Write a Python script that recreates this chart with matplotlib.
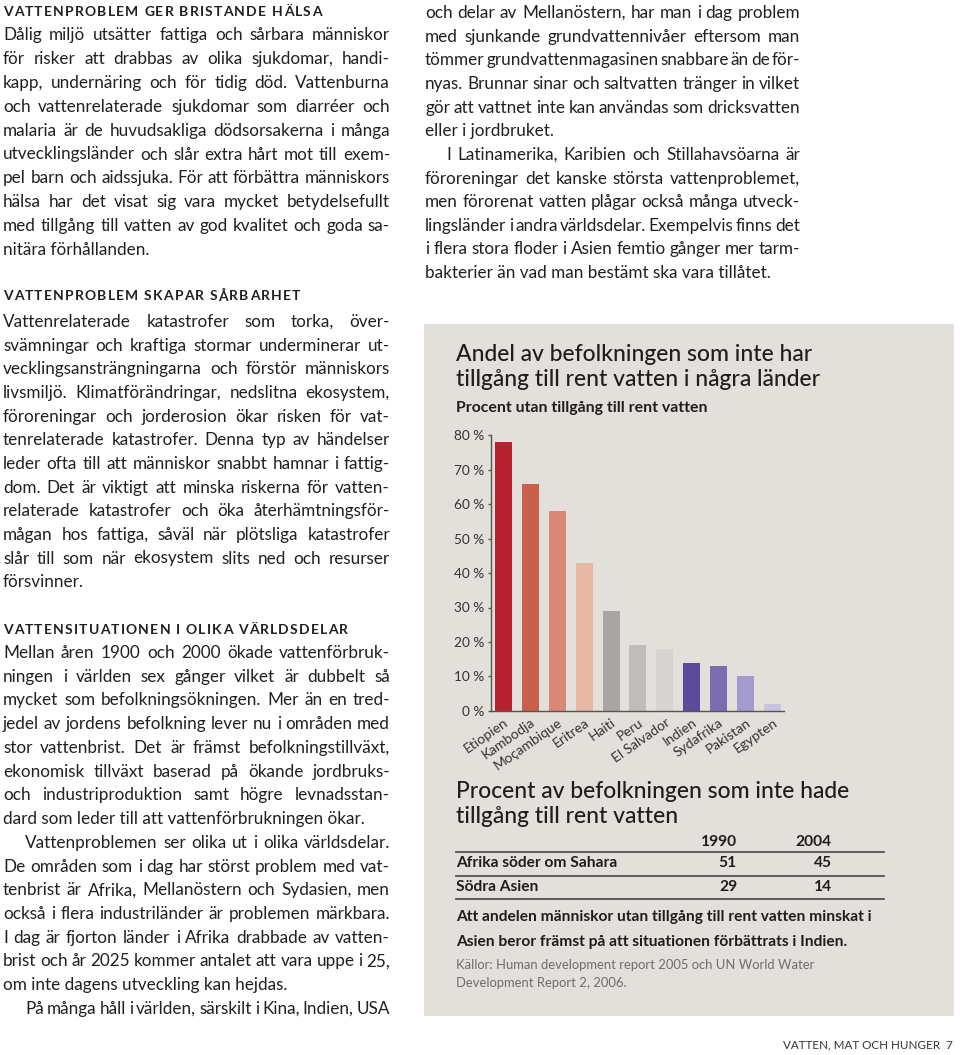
import matplotlib
matplotlib.use('Agg')
import matplotlib.pyplot as plt
from matplotlib.patches import Rectangle
from matplotlib.lines import Line2D
from matplotlib.font_manager import FontProperties

# ---------------- data ----------------
countries = ['Etiopien', 'Kambodja', 'Moçambique', 'Eritrea', 'Haiti', 'Peru',
             'El Salvador', 'Indien', 'Sydafrika', 'Pakistan', 'Egypten']
share_no_water = [78, 66, 58, 43, 29, 19, 18, 14, 13, 10, 2]
bar_colors = ['#b72230', '#ca5f4b', '#d98878', '#e7b7a6', '#aaa5a3', '#c0bcb9',
              '#d7d3d0', '#5b4c9b', '#7a6eb1', '#a39bcd', '#c9c3e2']
y_ticks = [0, 10, 20, 30, 40, 50, 60, 70, 80]
y_tick_labels = [f'{v} %' for v in y_ticks]

table_years = ['1990', '2004']
table_regions = ['Afrika söder om Sahara', 'Södra Asien']
table_1990 = [51, 29]
table_2004 = [45, 14]

chart_title = 'Andel av befolkningen som inte har\ntillgång till rent vatten i några länder'
chart_subtitle = 'Procent utan tillgång till rent vatten'
table_title = 'Procent av befolkningen som inte hade\ntillgång till rent vatten'
table_note = ['Att andelen människor utan tillgång till rent vatten minskat i',
              'Asien beror främst på att situationen förbättrats i Indien.']
source_lines = ['Källor: Human development report 2005 och UN World Water',
                'Development Report 2, 2006.']
footer = 'VATTEN, MAT OCH HUNGER  7'

heading1 = 'VATTENPROBLEM GER BRISTANDE HÄLSA'
para1 = ['Dålig miljö utsätter fattiga och sårbara människor',
         'för risker att drabbas av olika sjukdomar, handi-',
         'kapp, undernäring och för tidig död. Vattenburna',
         'och vattenrelaterade sjukdomar som diarréer och',
         'malaria är de huvudsakliga dödsorsakerna i många',
         'utvecklingsländer och slår extra hårt mot till exem-',
         'pel barn och aidssjuka. För att förbättra människors',
         'hälsa har det visat sig vara mycket betydelsefullt',
         'med tillgång till vatten av god kvalitet och goda sa-',
         'nitära förhållanden.']
heading2 = 'VATTENPROBLEM SKAPAR SÅRBARHET'
para2 = ['Vattenrelaterade katastrofer som torka, över-',
         'svämningar och kraftiga stormar underminerar ut-',
         'vecklingsansträngningarna och förstör människors',
         'livsmiljö. Klimatförändringar, nedslitna ekosystem,',
         'föroreningar och jorderosion ökar risken för vat-',
         'tenrelaterade katastrofer. Denna typ av händelser',
         'leder ofta till att människor snabbt hamnar i fattig-',
         'dom. Det är viktigt att minska riskerna för vatten-',
         'relaterade katastrofer och öka återhämtningsför-',
         'mågan hos fattiga, såväl när plötsliga katastrofer',
         'slår till som när ekosystem slits ned och resurser',
         'försvinner.']
heading3 = 'VATTENSITUATIONEN I OLIKA VÄRLDSDELAR'
para3 = ['Mellan åren 1900 och 2000 ökade vattenförbruk-',
         'ningen i världen sex gånger vilket är dubbelt så',
         'mycket som befolkningsökningen. Mer än en tred-',
         'jedel av jordens befolkning lever nu i områden med',
         'stor vattenbrist. Det är främst befolkningstillväxt,',
         'ekonomisk tillväxt baserad på ökande jordbruks-',
         'och industriproduktion samt högre levnadsstan-',
         'dard som leder till att vattenförbrukningen ökar.']
para4 = ['Vattenproblemen ser olika ut i olika världsdelar.',
         'De områden som i dag har störst problem med vat-',
         'tenbrist är Afrika, Mellanöstern och Sydasien, men',
         'också i flera industriländer är problemen märkbara.',
         'I dag är fjorton länder i Afrika drabbade av vatten-',
         'brist och år 2025 kommer antalet att vara uppe i 25,',
         'om inte dagens utveckling kan hejdas.']
para5 = ['På många håll i världen, särskilt i Kina, Indien, USA']
para6 = ['och delar av Mellanöstern, har man i dag problem',
         'med sjunkande grundvattennivåer eftersom man',
         'tömmer grundvattenmagasinen snabbare än de för-',
         'nyas. Brunnar sinar och saltvatten tränger in vilket',
         'gör att vattnet inte kan användas som dricksvatten',
         'eller i jordbruket.']
para7 = ['I Latinamerika, Karibien och Stillahavsöarna är',
         'föroreningar det kanske största vattenproblemet,',
         'men förorenat vatten plågar också många utveck-',
         'lingsländer i andra världsdelar. Exempelvis finns det',
         'i flera stora floder i Asien femtio gånger mer tarm-',
         'bakterier än vad man bestämt ska vara tillåtet.']

# ---------------- figure ----------------
W, H = 960, 1055
fig = plt.figure(figsize=(W / 100, H / 100), dpi=100)
fig.patch.set_facecolor('white')
renderer = fig.canvas.get_renderer()

FAM = ['Lato', 'DejaVu Sans']
TXT = '#231f20'


def fx(x):
    return x / W


def fy(y):
    return 1 - y / H


def fp(size, weight='normal'):
    return FontProperties(family=FAM, size=size, weight=weight)


def tw(s, prop):
    w, h, d = renderer.get_text_width_height_descent(s, prop, ismath=False)
    return w


def space_w(prop):
    return tw('n n', prop) - tw('nn', prop)


def line(s, x0, y, width, prop, justify=True, color=TXT):
    words = s.split(' ')
    if not justify or len(words) == 1:
        fig.text(fx(x0), fy(y), s, fontproperties=prop, color=color,
                 ha='left', va='center')
        return
    ws = [tw(w, prop) for w in words]
    gap = (width - sum(ws)) / (len(words) - 1)
    x = x0
    for w, ww in zip(words, ws):
        fig.text(fx(x), fy(y), w, fontproperties=prop, color=color,
                 ha='left', va='center')
        x += ww + gap


def tracked(s, x0, y, prop, tracking, color=TXT):
    x = x0
    sw = space_w(prop)
    for ch in s:
        if ch == ' ':
            x += sw + tracking
            continue
        fig.text(fx(x), fy(y), ch, fontproperties=prop, color=color,
                 ha='left', va='center')
        x += tw(ch, prop) + tracking


def paragraph(lines, x0, y0, width, step, prop, indent=0, last_justified=False):
    for i, s in enumerate(lines):
        last = (i == len(lines) - 1) and not last_justified
        xi = x0 + (indent if i == 0 else 0)
        wi = width - (indent if i == 0 else 0)
        line(s, xi, y0 + i * step, wi, prop, justify=not last)


body = fp(12.3)
head = fp(10, 'bold')

# left column
LX, LW = 3, 387
tracked(heading1, LX, 12, head, 1.2)
paragraph(para1, LX, 35, LW, 23.9, body)
tracked(heading2, LX, 296, head, 1.2)
paragraph(para2, LX, 322, LW, 23.65, body)
tracked(heading3, LX, 630, head, 1.2)
step3 = 23.73
paragraph(para3, LX, 653, LW, step3, body)
paragraph(para4, LX, 653 + 8 * step3, LW, step3, body, indent=22)
paragraph(para5, LX, 653 + 15 * step3, LW, step3, body, indent=22, last_justified=True)

# right column
RX, RW = 425, 375
paragraph(para6, RX, 13, RW, 23.65, body)
paragraph(para7, RX, 13 + 6 * 23.65, RW, 23.65, body, indent=21)

# footer
fig.text(fx(953), fy(1045), footer, fontproperties=fp(8.4), color='#333333',
         ha='right', va='center')

# ---------------- grey panel ----------------
fig.patches.append(Rectangle((fx(424), fy(1016)), (954 - 424) / W, (1016 - 324) / H,
                             transform=fig.transFigure, facecolor='#e3dfda',
                             edgecolor='none', zorder=-10))

fig.text(fx(456), fy(344), chart_title, fontproperties=fp(16.5, 'medium'), color='#1e1e1e',
         ha='left', va='top', linespacing=1.22)
fig.text(fx(456), fy(408), chart_subtitle, fontproperties=fp(11.4, 'bold'), color='#1e1e1e',
         ha='left', va='center')

# ---------------- bar chart ----------------
x0_px, x1_px = 491, 784
yb_px, yt_px = 710.7, 435.5
ax = fig.add_axes([fx(x0_px), fy(yb_px), (x1_px - x0_px) / W, (yb_px - yt_px) / H])
ax.set_zorder(5)
ax.patch.set_visible(False)
xs = list(range(len(countries)))
ax.bar(xs, share_no_water, width=0.63, color=bar_colors, zorder=2)
ax.set_xlim(-0.465, 10.43)
ax.set_ylim(0, 80)
for s in ['top', 'right']:
    ax.spines[s].set_visible(False)
for s in ['left', 'bottom']:
    ax.spines[s].set_color('#555555')
    ax.spines[s].set_linewidth(1.0)
ax.set_yticks(y_ticks)
ax.set_yticklabels(y_tick_labels, fontproperties=fp(9.8), color='#333333')
ax.tick_params(axis='y', length=2.5, width=1.0, color='#555555', pad=2.5)
ax.set_xticks(xs)
ax.set_xticklabels(countries, fontproperties=fp(10), color='#333333',
                   rotation=35, ha='right', rotation_mode='anchor')
ax.tick_params(axis='x', length=0, pad=4)

# ---------------- table ----------------
fig.text(fx(456), fy(781), table_title, fontproperties=fp(16.5, 'medium'), color='#1e1e1e',
         ha='left', va='top', linespacing=1.22)
tb = fp(11.2, 'bold')
col_x = [737, 832]
for cx, yr in zip(col_x, table_years):
    fig.text(fx(cx), fy(842), yr, fontproperties=tb, color='#1e1e1e', ha='right', va='center')
row_y = [863, 887]
for ry, reg, v1, v2 in zip(row_y, table_regions, table_1990, table_2004):
    fig.text(fx(456), fy(ry), reg, fontproperties=tb, color='#1e1e1e', ha='left', va='center')
    fig.text(fx(col_x[0]), fy(ry), str(v1), fontproperties=tb, color='#1e1e1e', ha='right', va='center')
    fig.text(fx(col_x[1]), fy(ry), str(v2), fontproperties=tb, color='#1e1e1e', ha='right', va='center')
for ly in [852, 875.5, 899]:
    fig.add_artist(Line2D([fx(456), fx(884)], [fy(ly), fy(ly)], transform=fig.transFigure,
                          color='#444444', linewidth=1.2))
for i, s in enumerate(table_note):
    fig.text(fx(456), fy(917 + i * 25), s, fontproperties=tb, color='#1e1e1e',
             ha='left', va='center')
for i, s in enumerate(source_lines):
    fig.text(fx(456), fy(965 + i * 18), s, fontproperties=fp(9.4), color='#6e6e6e',
             ha='left', va='center')

fig.savefig('out.png', dpi=100, facecolor='white')
